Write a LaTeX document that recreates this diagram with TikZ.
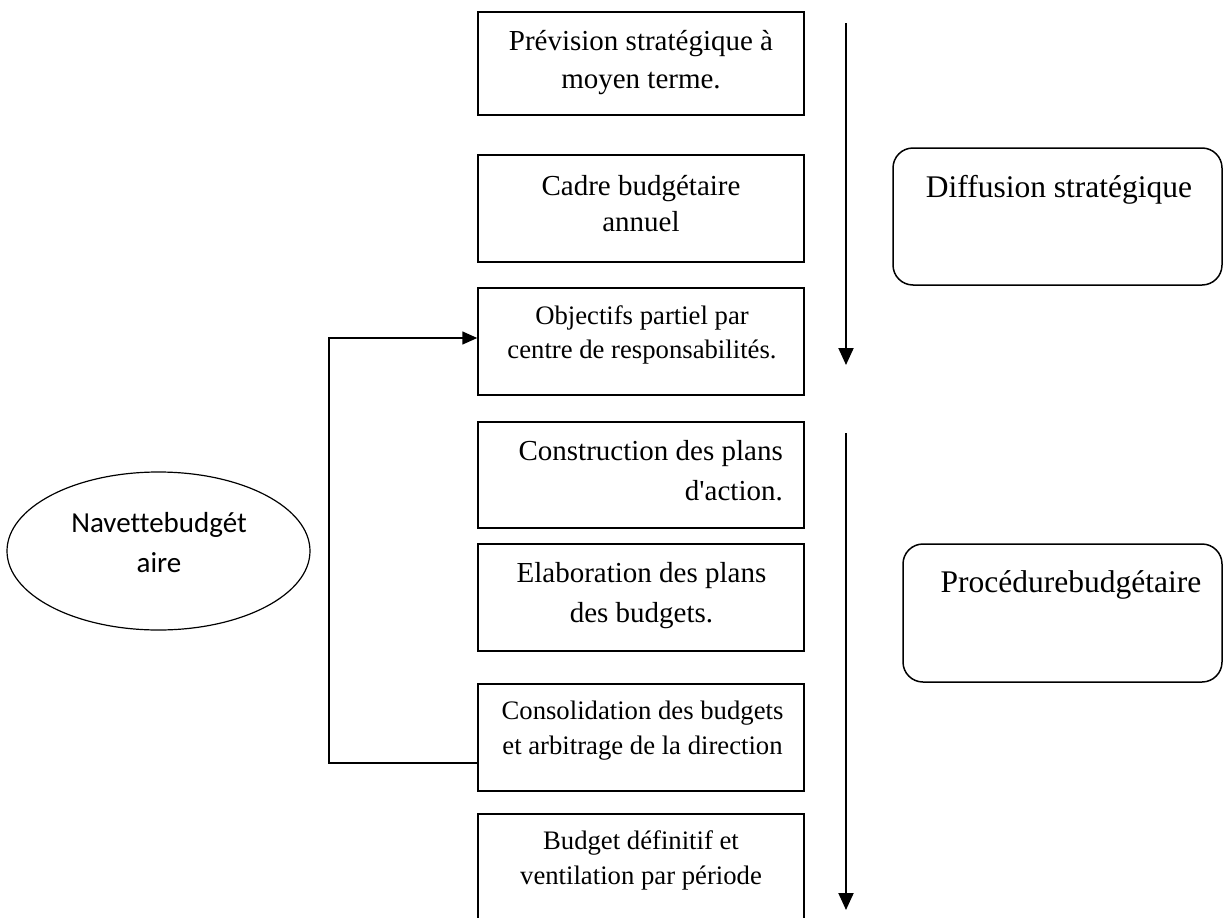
\documentclass[tikz,border=0pt]{standalone}
\usepackage{fontspec}
\setmainfont[Ligatures=NoCommon]{Liberation Serif}
\newfontfamily\calibfont[Ligatures=NoCommon]{Carlito}
\usetikzlibrary{arrows.meta,shapes.geometric}
\begin{document}
\begin{tikzpicture}[x=1pt,y=-1pt,
  stepbox/.style={draw,line width=1.5pt,minimum width=326pt,inner sep=0pt},
  roundbox/.style={draw,line width=1.5pt,rounded corners=20pt,inner sep=0pt},
  txt/.style={anchor=north,inner sep=0pt,align=center},
  flowarrow/.style={line width=2pt,-{Triangle[length=17pt,width=15pt]}},
  conn/.style={line width=1.6pt,-{Triangle[length=15pt,width=13pt]}}
]
\useasboundingbox (0,0) rectangle (1224,918);
\clip (0,0) rectangle (1224,918);
\fill[white] (0,0) rectangle (1224,918);

% boxes
\node[stepbox,minimum height=103pt] (b1) at (641,63.5) {};
\node[stepbox,minimum height=107pt] (b2) at (641,208.5) {};
\node[stepbox,minimum height=107pt] (b3) at (641,341.5) {};
\node[stepbox,minimum height=106pt] (b4) at (641,475) {};
\node[stepbox,minimum height=107pt] (b5) at (641,597.5) {};
\node[stepbox,minimum height=107pt] (b6) at (641,737.5) {};
\node[stepbox,minimum height=111pt] (b7) at (641,869.5) {};

% texts
\node[txt,font=\fontsize{29}{38}\selectfont] (t1) at (641,23.4) {\strut Prévision stratégique à\\moyen terme.};
\node[txt,font=\fontsize{29}{36}\selectfont] (t2) at (641,170) {\strut Cadre budgétaire\\annuel};
\node[txt,font=\fontsize{26.7}{34}\selectfont] (t3) at (642,300.2) {\strut Objectifs partiel par\\centre de responsabilités.};
\node[txt,anchor=north east,align=right,font=\fontsize{29}{40}\selectfont] (t4) at (783,432) {\strut Construction des plans\\d\textquotesingle action.};
\node[txt,font=\fontsize{29}{40}\selectfont] (t5) at (641.5,554) {\strut Elaboration des plans\\des budgets.};
\node[txt,font=\fontsize{26.7}{35}\selectfont] (t6) at (642.5,694.5) {\strut Consolidation des budgets\\et arbitrage de la direction};
\node[txt,font=\fontsize{26.7}{35}\selectfont] (t7) at (641,824.5) {\strut Budget définitif et\\ventilation par période};

% vertical arrows
\coordinate (a1s) at (846,23);
\coordinate (a1e) at (846,365);
\coordinate (a2s) at (846,433);
\coordinate (a2e) at (846,910);
\draw[flowarrow] (a1s) -- (a1e);
\draw[flowarrow] (a2s) -- (a2e);

% rounded boxes
\node[roundbox,minimum width=329pt,minimum height=137pt] (diff) at (1057.5,216.5) {};
\node[anchor=base,inner sep=0pt,font=\fontsize{31.5}{38}\selectfont] (difft) at (1059,197) {Diffusion stratégique};
\node[roundbox,minimum width=319pt,minimum height=138pt] (proc) at (1062.5,613) {};
\node[anchor=base,inner sep=0pt,font=\fontsize{31.5}{38}\selectfont] (proct) at (1071,592) {Procédurebudgétaire};

% ellipse
\node[draw,ellipse,line width=1.2pt,minimum width=303pt,minimum height=158pt,inner sep=0pt] (nav) at (158.5,551) {};
\node[txt,font=\calibfont\fontsize{29}{40}\selectfont] (navt) at (159,504) {\strut Navettebudgét\\aire};

% feedback connector
\draw[conn] ([yshift=-25.5pt]b6.west) -- ++(-148,0) |- ([yshift=3.5pt]b3.west);
\end{tikzpicture}
\end{document}
